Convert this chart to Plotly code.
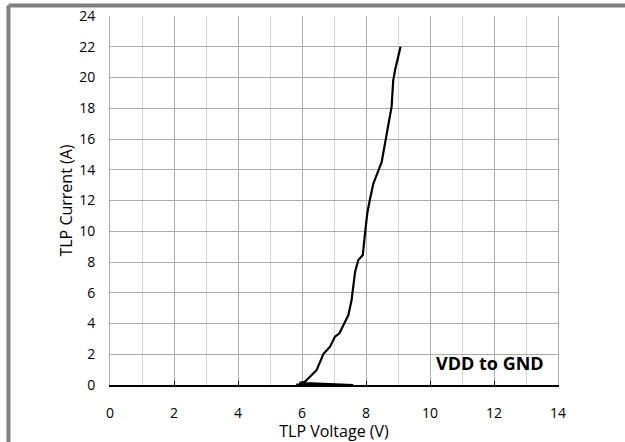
import plotly.graph_objects as go

# TLP I-V data (VDD to GND)
voltage = [5.82, 7.6, 5.92, 6.09, 6.46, 6.67, 6.875, 7.03, 7.17, 7.45, 7.55, 7.66,
           7.76, 7.9, 7.97, 8.04, 8.125, 8.23, 8.49, 8.6, 8.7, 8.8, 8.85, 8.91, 9.08]
current = [0.02, 0.0, 0.14, 0.21, 0.98, 2.02, 2.49, 3.14, 3.36, 4.55, 5.53, 7.37,
           8.13, 8.46, 9.87, 11.17, 12.1, 13.1, 14.5, 15.7, 16.8, 18.1, 19.8, 20.5, 22.0]

x_ticks = [0, 2, 4, 6, 8, 10, 12, 14]
y_ticks = [0, 2, 4, 6, 8, 10, 12, 14, 16, 18, 20, 22, 24]
label = "VDD to GND"

FONT = "Open Sans"

fig = go.Figure()
fig.add_trace(go.Scatter(x=voltage, y=current, mode="lines",
                         line=dict(color="black", width=2.2),
                         showlegend=False, hoverinfo="skip"))

fig.add_annotation(x=11.875, y=1.45, xref="x", yref="y", text="<b>" + label + "</b>",
                   showarrow=False, font=dict(family=FONT, size=18, color="black"))

# outer grey frame (top and left edges)
fig.add_shape(type="line", xref="paper", yref="paper",
              x0=-0.2266, x1=1.2, y0=1.0285, y1=1.0285,
              line=dict(color="#808080", width=4))
fig.add_shape(type="line", xref="paper", yref="paper",
              x0=-0.2266, x1=-0.2266, y0=1.0285, y1=-0.2,
              line=dict(color="#808080", width=4))

fig.update_layout(
    width=625, height=442,
    margin=dict(l=110, r=67, t=16, b=57),
    paper_bgcolor="white", plot_bgcolor="white",
    font=dict(family=FONT, size=14, color="black"),
    xaxis=dict(range=[0, 14], tickvals=x_ticks, ticktext=[str(v) for v in x_ticks],
               showgrid=True, gridcolor="#ababab", gridwidth=1,
               minor=dict(dtick=1, tick0=0, showgrid=True, gridcolor="#d4d4d4", gridwidth=1),
               showline=True, linecolor="black", linewidth=1.5,
               ticks="inside", ticklen=4, tickcolor="black", tickwidth=1,
               ticklabelstandoff=14, automargin=False,
               zeroline=False, fixedrange=True,
               title=dict(text="TLP Voltage (V)", font=dict(size=16), standoff=4),
               tickfont=dict(size=14)),
    yaxis=dict(range=[0, 24], tickvals=y_ticks, ticktext=[str(v) for v in y_ticks],
               showgrid=True, gridcolor="#ababab", gridwidth=1,
               showline=True, linecolor="#ababab", linewidth=1, mirror=True,
               ticks="", ticklabelstandoff=11, automargin=False,
               zeroline=False, fixedrange=True,
               title=dict(text="TLP Current (A)", font=dict(size=16), standoff=2),
               tickfont=dict(size=14)),
)

fig.write_html("out.html")
